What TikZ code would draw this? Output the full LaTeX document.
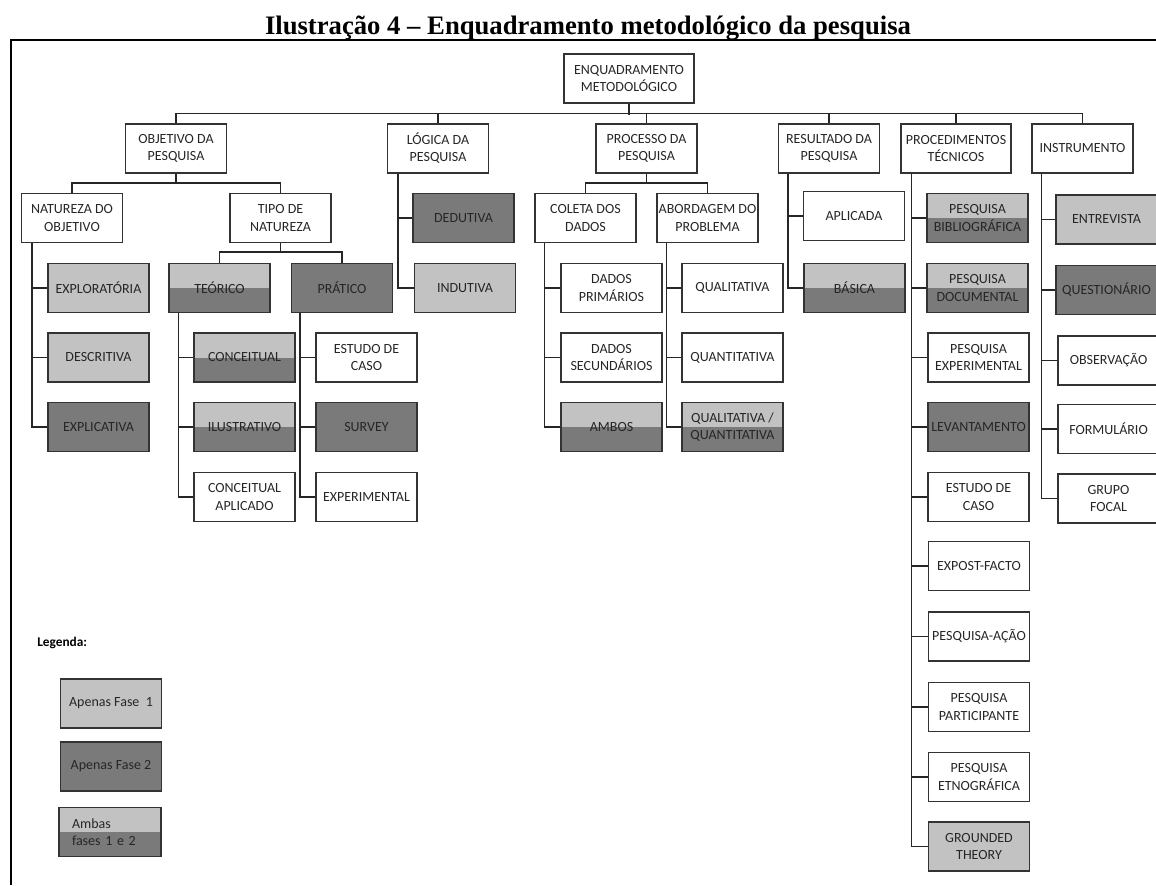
\documentclass[tikz,border=0pt]{standalone}
\usepackage{fontspec}
\setmainfont{Carlito}
\newfontfamily\titrefont{Liberation Serif}
\definecolor{fasea}{RGB}{194,194,194}
\definecolor{faseb}{RGB}{122,122,122}
\tikzset{
  caixa/.style={draw=black!80, line width=1.1pt, minimum width=75.75pt, minimum height=36.75pt,
    inner sep=1pt, align=center, text=black!85, font=\fontsize{10.5}{12.8}\selectfont},
  fum/.style={fill=fasea},
  fdois/.style={fill=faseb},
  fambas/.style={fill=faseb, path picture={\fill[fasea] (path picture bounding box.north west) rectangle (path picture bounding box.east);}},
  liga/.style={draw=black!85, line width=1.1pt},
}
\begin{document}
\begin{tikzpicture}[x=0.75pt, y=-0.75pt]
\useasboundingbox (0,0) rectangle (1156,885);
\node[font=\titrefont\fontsize{20}{24}\selectfont\bfseries, anchor=base] (tit) at (588,34) {Ilustração 4 – Enquadramento metodológico da pesquisa};
\draw[line width=1.3pt] (11,885) -- (11,40) -- (1156,40);%cadre
% niveau 0 et 1
\node[caixa, minimum width=97.5pt] (r) at (629,78.5) {ENQUADRAMENTO\\METODOLÓGICO};
\node[caixa] (obj) at (176,148.5) {OBJETIVO DA\\PESQUISA};
\node[caixa] (log) at (438,148.5) {LÓGICA DA\\PESQUISA};
\node[caixa] (proc) at (646.5,148.5) {PROCESSO DA\\PESQUISA};
\node[caixa] (res) at (829,148.5) {RESULTADO DA\\PESQUISA};
\node[caixa, minimum width=82.5pt] (tec) at (956,148.5) {PROCEDIMENTOS\\TÉCNICOS};
\node[caixa] (instr) at (1082.5,148.5) {INSTRUMENTO};
% niveau 2
\node[caixa] (nat) at (72,218) {NATUREZA DO\\OBJETIVO};
\node[caixa] (tipo) at (280.5,218) {TIPO DE\\NATUREZA};
\node[caixa, fdois] (ded) at (463.5,218) {DEDUTIVA};
\node[caixa] (col) at (585.5,218) {COLETA DOS\\DADOS};
\node[caixa] (abo) at (707.5,218) {ABORDAGEM DO\\PROBLEMA};
\node[caixa] (apl) at (854,216) {APLICADA};
\node[caixa, fambas] (bib) at (977.5,218) {PESQUISA\\BIBLIOGRÁFICA};
\node[caixa, fum] (ent) at (1106.5,219.5) {ENTREVISTA};
% ligne A
\node[caixa, fum] (exr) at (98.5,288) {EXPLORATÓRIA};
\node[caixa, fambas] (teo) at (219.5,288) {TEÓRICO};
\node[caixa, fdois] (pra) at (342,288) {PRÁTICO};
\node[caixa, fum] (ind) at (465,288) {INDUTIVA};
\node[caixa] (pri) at (611.5,288) {DADOS\\PRIMÁRIOS};
\node[caixa] (qli) at (732.5,288) {QUALITATIVA};
\node[caixa, fambas] (bas) at (854.5,288) {BÁSICA};
\node[caixa, fambas] (doc) at (977.5,288) {PESQUISA\\DOCUMENTAL};
\node[caixa, fdois] (que) at (1106.5,290) {QUESTIONÁRIO};
% ligne B
\node[caixa, fum] (des) at (98.5,357.5) {DESCRITIVA};
\node[caixa, fambas] (con) at (244.5,357.5) {CONCEITUAL};
\node[caixa] (est) at (366.5,357.5) {ESTUDO DE\\CASO};
\node[caixa] (sec) at (611.5,357.5) {DADOS\\SECUNDÁRIOS};
\node[caixa] (qnt) at (732.5,357.5) {QUANTITATIVA};
\node[caixa] (pex) at (978.5,357.5) {PESQUISA\\EXPERIMENTAL};
\node[caixa] (obs) at (1108.5,360.5) {OBSERVAÇÃO};
% ligne C
\node[caixa, fdois] (exc) at (98.5,427) {EXPLICATIVA};
\node[caixa, fambas] (ilu) at (244.5,427) {ILUSTRATIVO};
\node[caixa, fdois] (sur) at (366.5,427) {SURVEY};
\node[caixa, fambas] (amb) at (611.5,427) {AMBOS};
\node[caixa, fambas] (qq) at (732.5,427) {QUALITATIVA /\\QUANTITATIVA};
\node[caixa, fdois] (lev) at (978.5,427) {LEVANTAMENTO};
\node[caixa] (frm) at (1108.5,429) {FORMULÁRIO};
% ligne D
\node[caixa] (cap) at (244.5,497) {CONCEITUAL\\APLICADO};
\node[caixa] (exp) at (366.5,497) {EXPERIMENTAL};
\node[caixa] (ec) at (978.5,497) {ESTUDO DE\\CASO};
\node[caixa] (gru) at (1108.5,498.5) {GRUPO\\FOCAL};
\node[caixa] (epf) at (979,566) {EXPOST-FACTO};
\node[caixa] (aca) at (979,636.5) {PESQUISA-AÇÃO};
\node[caixa] (par) at (979,707) {PESQUISA\\PARTICIPANTE};
\node[caixa] (etn) at (979,777) {PESQUISA\\ETNOGRÁFICA};
\node[caixa, fum] (gro) at (979,846.5) {GROUNDED\\THEORY};
% liaisons
\draw[liga] (r.south) -- ++(0,11);
\draw[liga] (obj.north) -- ++(0,-10) -| (instr.north);
\foreach \n in {log,proc,res,tec} \draw[liga] (\n.north) -- ++(0,-10);
\draw[liga] (obj.south) -- ++(0,10);
\draw[liga] (nat.north) -- ++(0,-10) -| (tipo.north);
\draw[liga] (tipo.south) -- ++(0,9);
\draw[liga] (teo.north) -- ++(0,-11) -| (pra.north);
\draw[liga] (proc.south) -- ++(0,10);
\draw[liga] (col.north) -- ++(0,-10) -| (abo.north);
\foreach \f in {exr,des,exc} \draw[liga] ([xshift=8.25pt]nat.south west) |- (\f.west);
\foreach \f in {con,ilu,cap} \draw[liga] ([xshift=7.5pt]teo.south west) |- (\f.west);
\foreach \f in {est,sur,exp} \draw[liga] ([xshift=6.75pt]pra.south west) |- (\f.west);
\foreach \f in {ded,ind} \draw[liga] ([xshift=8.25pt]log.south west) |- (\f.west);
\foreach \f in {pri,sec,amb} \draw[liga] ([xshift=7.5pt]col.south west) |- (\f.west);
\foreach \f in {qli,qnt,qq} \draw[liga] ([xshift=7.5pt]abo.south west) |- (\f.west);
\foreach \f in {apl,bas} \draw[liga] ([xshift=7.5pt]res.south west) |- (\f.west);
\foreach \f in {bib,doc,pex,lev,ec,epf,aca,par,etn,gro} \draw[liga] ([xshift=8.25pt]tec.south west) |- (\f.west);
\foreach \f in {ent,que,obs,frm,gru} \draw[liga] ([xshift=7.5pt]instr.south west) |- (\f.west);
% legende
\node[anchor=west, inner sep=0pt, font=\fontsize{10}{12}\selectfont\bfseries] (leg) at (37,643) {Legenda:};
\node[caixa, fum] (l1) at (111,703.5) {Apenas Fase\ \ 1};
\node[caixa, fdois] (l2) at (111,766.5) {Apenas Fase 2};
\node[caixa, fambas, text width=57pt, align=left, inner xsep=9.75pt] (l3) at (110,832) {Ambas\\fases 1 e 2};
\end{tikzpicture}
\end{document}
